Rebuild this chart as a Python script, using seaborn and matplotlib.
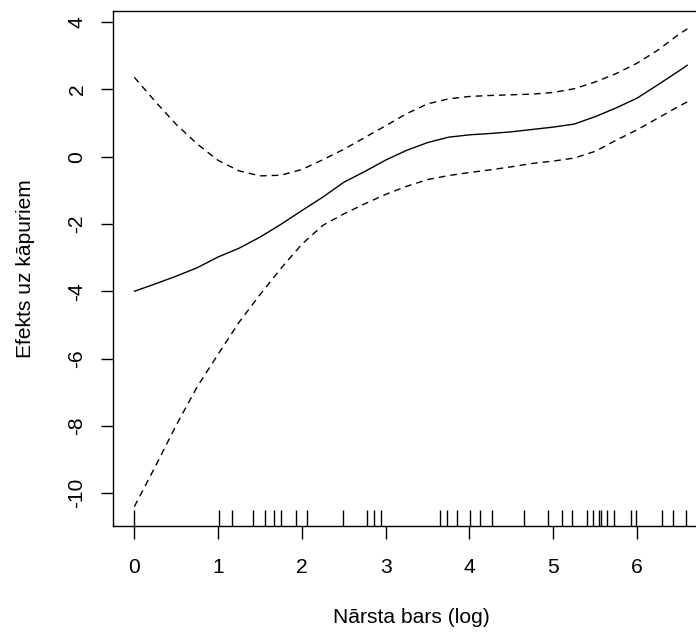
import matplotlib
matplotlib.use("Agg")
import matplotlib.pyplot as plt
import seaborn as sns
import pandas as pd

# ---- data ----
x_grid = [0.0, 0.25, 0.5, 0.75, 1.0, 1.25, 1.5, 1.75, 2.0, 2.25, 2.5, 2.75,
          3.0, 3.25, 3.5, 3.75, 4.0, 4.25, 4.5, 4.75, 5.0, 5.25, 5.5, 5.75,
          6.0, 6.25, 6.5, 6.6]
fit = [-4.00, -3.78, -3.55, -3.30, -2.98, -2.72, -2.39, -2.01, -1.60, -1.20,
       -0.76, -0.44, -0.10, 0.19, 0.42, 0.58, 0.65, 0.69, 0.74, 0.81, 0.88,
       0.97, 1.19, 1.45, 1.74, 2.14, 2.55, 2.72]
upper = [2.36, 1.64, 0.96, 0.38, -0.11, -0.42, -0.57, -0.55, -0.38, -0.09,
         0.22, 0.57, 0.92, 1.28, 1.57, 1.72, 1.79, 1.82, 1.84, 1.86, 1.91,
         2.02, 2.22, 2.47, 2.78, 3.17, 3.64, 3.80]
lower = [-10.40, -9.21, -7.98, -6.84, -5.87, -4.92, -4.10, -3.32, -2.60,
         -2.04, -1.70, -1.40, -1.12, -0.88, -0.68, -0.56, -0.47, -0.39, -0.30,
         -0.20, -0.13, -0.04, 0.16, 0.49, 0.80, 1.15, 1.50, 1.63]
rug = [0.0, 1.014, 1.163, 1.413, 1.556, 1.671, 1.747, 1.930, 2.061, 2.487,
       2.780, 2.864, 2.943, 3.648, 3.728, 3.847, 4.006, 4.125, 4.272, 4.650,
       4.940, 5.107, 5.220, 5.399, 5.477, 5.541, 5.569, 5.644, 5.721, 5.924,
       5.983, 6.293, 6.432, 6.580]
x_ticks = [0, 1, 2, 3, 4, 5, 6]
y_ticks = [-10, -8, -6, -4, -2, 0, 2, 4]
x_label = "Nārsta bars (log)"
y_label = "Efekts uz kāpuriem"

df = pd.DataFrame({"x": x_grid, "fit": fit, "upper": upper, "lower": lower})

sns.set_theme(style="ticks")
plt.rcParams["font.family"] = ["Liberation Sans", "DejaVu Sans"]
FS = 15.1

fig = plt.figure(figsize=(6.96, 6.33), dpi=100)
ax = fig.add_axes([112.7 / 696, 107.3 / 633, 596.8 / 696, 515.0 / 633])

dash = (0, (4.8, 3.6))
sns.lineplot(data=df, x="x", y="fit", ax=ax, color="black", linewidth=1.0,
             errorbar=None)
sns.lineplot(data=df, x="x", y="upper", ax=ax, color="black", linewidth=1.0,
             linestyle=dash, errorbar=None)
sns.lineplot(data=df, x="x", y="lower", ax=ax, color="black", linewidth=1.0,
             linestyle=dash, errorbar=None)
sns.rugplot(x=rug, ax=ax, height=0.03, color="black", linewidth=1.0)

ax.set_xlim(-0.2578, 6.864)
ax.set_ylim(-10.966, 4.339)
ax.set_xticks(x_ticks)
ax.set_yticks(y_ticks)
ax.set_xticklabels([str(v) for v in x_ticks])
ax.set_yticklabels([str(v) for v in y_ticks], rotation=90, va="center")

for s in ax.spines.values():
    s.set_color("black")
    s.set_linewidth(1.0)

ax.tick_params(axis="both", direction="out", length=9, width=1.0,
               color="black", labelsize=FS, labelcolor="black")
ax.tick_params(axis="x", pad=14)
ax.tick_params(axis="y", pad=9.8)

ax.set_xlabel(x_label, fontsize=FS, color="black", labelpad=22.7)
ax.set_ylabel(y_label, fontsize=FS, color="black", labelpad=23.3)

fig.savefig("out.png", dpi=100)
